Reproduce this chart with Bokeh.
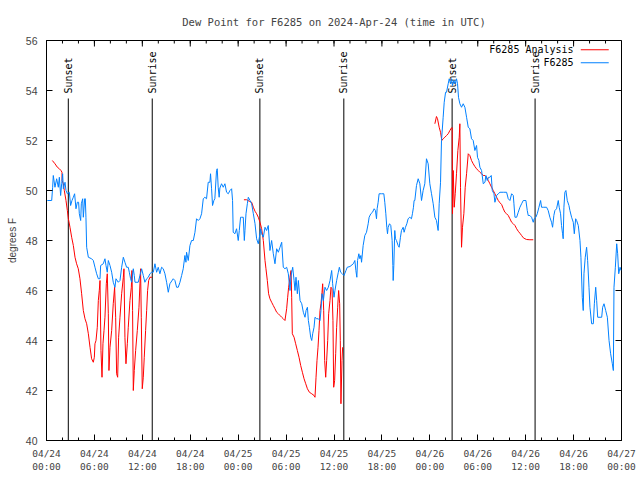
import numpy as np
from bokeh.plotting import figure
from bokeh.models import Range1d, FixedTicker, Label
from bokeh.core.properties import value
from bokeh.embed import file_html
from bokeh.resources import INLINE

TITLE = "Dew Point for F6285 on 2024-Apr-24 (time in UTC)"
Y_LABEL = "degrees F"
TICK_HOURS = [0, 6, 12, 18, 24, 30, 36, 42, 48, 54, 60, 66, 72]
TICK_LABELS = ["04/24\n00:00", "04/24\n06:00", "04/24\n12:00", "04/24\n18:00",
               "04/25\n00:00", "04/25\n06:00", "04/25\n12:00", "04/25\n18:00",
               "04/26\n00:00", "04/26\n06:00", "04/26\n12:00", "04/26\n18:00",
               "04/27\n00:00"]
MINOR_HOURS = list(range(0, 73, 2))
Y_TICKS = [40, 42, 44, 46, 48, 50, 52, 54, 56]
SUN_HOURS = [2.73, 13.24, 26.72, 37.23, 50.79, 61.18]
SUN_LABELS = ["Sunset", "Sunrise", "Sunset", "Sunrise", "Sunset", "Sunrise"]
LEGEND_LABELS = ["F6285 Analysis", "F6285"]

# Observed station dew point (hours since 2024-04-24 00:00 UTC, degrees F)
STATION_HOURS = [
    0.10, 0.65, 0.77, 0.85, 1.06, 1.27, 1.48, 1.61, 1.77, 1.90, 2.02, 2.11, 2.32, 2.44, 2.61, 2.86,
    3.02, 3.19, 3.36, 3.52, 3.69, 3.86, 4.02, 4.11, 4.28, 4.36, 4.53, 4.61, 4.78, 4.86, 4.94, 5.03,
    5.24, 5.65, 5.86, 6.07, 6.28, 6.49, 6.70, 6.78, 7.11, 7.32, 7.45, 7.61, 7.74, 7.95, 8.16, 8.36,
    8.57, 8.70, 8.99, 9.20, 9.41, 9.62, 9.82, 10.03, 10.24, 10.37, 10.53, 10.66, 10.87, 10.99, 11.08,
    11.49, 11.70, 11.91, 12.12, 12.32, 12.54, 12.75, 12.95, 13.16, 13.37, 13.58, 13.79, 13.99, 14.20,
    14.41, 14.62, 14.83, 15.04, 15.25, 15.45, 15.87, 16.08, 16.29, 16.50, 16.71, 16.92, 17.12, 17.33,
    17.46, 17.54, 17.75, 17.96, 18.17, 18.38, 18.59, 18.79, 19.00, 19.21, 19.42, 19.63, 19.83, 20.04,
    20.25, 20.46, 20.54, 20.67, 20.79, 20.96, 21.08, 21.29, 21.38, 21.50, 21.62,
    21.71, 21.92, 22.13, 22.34, 22.55, 22.76, 22.97, 23.18, 23.30, 23.38, 23.59, 23.80, 24.01, 24.14,
    24.30, 24.43, 24.64, 24.77, 24.85, 24.98, 25.15, 25.27, 25.48, 25.69, 25.90, 26.11, 26.31, 26.52,
    26.73, 26.81, 26.94, 27.15, 27.36, 27.56, 27.77, 27.98, 28.19, 28.40, 28.61, 28.82, 29.03, 29.24,
    29.45, 29.65, 29.86, 30.07, 30.28, 30.49, 30.62, 30.83, 31.00, 31.12, 31.24, 31.41, 31.54, 31.75,
    31.96, 32.16, 32.37, 32.50, 32.67, 32.79, 32.92, 33.08, 33.21, 33.33, 33.50, 33.62, 33.83, 34.04,
    34.25, 34.37, 34.50, 34.67, 34.87, 35.08, 35.29, 35.50, 35.71, 35.83, 36.00, 36.12, 36.33, 36.54,
    36.67, 36.83, 37.04, 37.25, 37.50, 37.66, 38.00, 38.42,
    38.61, 38.74, 38.86, 38.95, 39.11, 39.24, 39.36, 39.45, 39.65, 39.86, 40.07, 40.28, 40.40, 40.61,
    40.82, 41.03, 41.19, 41.32, 41.40, 41.53, 41.65, 41.94, 42.24, 42.36, 42.49, 42.61, 42.70, 42.78,
    42.95, 43.11, 43.28, 43.37, 43.41, 43.49, 43.61, 43.70, 43.82, 44.03, 44.16, 44.32, 44.45, 44.66,
    44.78, 44.95, 45.12, 45.28, 45.49, 45.70, 45.82, 45.95, 46.03,
    46.12, 46.33, 46.54, 46.75, 46.96, 47.16, 47.37, 47.58, 47.79, 48.00, 48.21, 48.42, 48.63, 48.83,
    49.04, 49.17, 49.34, 49.46, 49.67, 49.80, 49.97, 50.09, 50.30, 50.43, 50.59, 50.72, 50.84, 51.01,
    51.18, 51.34, 51.47, 51.59, 51.76, 51.97, 52.18, 52.39, 52.60, 52.81, 53.01, 53.22, 53.43, 53.64,
    53.85, 53.97, 54.14, 54.27, 54.48, 54.69, 54.90, 55.02, 55.19, 55.36, 55.52, 55.69, 55.82, 56.03,
    56.15, 56.36, 56.57, 56.78, 57.20, 57.61, 57.82, 58.03, 58.24, 58.45, 58.53, 58.66, 58.87, 59.07,
    59.28, 59.49, 59.70, 59.91, 60.03, 60.20, 60.32, 60.53, 60.74, 60.95, 61.07, 61.28, 61.45, 61.66,
    61.87, 61.99, 62.20, 62.62, 62.82, 63.03, 63.24, 63.37, 63.53, 63.66, 63.87, 64.08, 64.20, 64.37,
    64.49, 64.62, 64.70, 64.79, 64.91, 65.04, 65.21, 65.42, 65.54, 65.75, 65.96, 66.09, 66.26, 66.38,
    66.59, 66.80, 66.92, 67.09, 67.21, 67.30, 67.46, 67.63, 67.76, 67.93, 68.05, 68.26, 68.47, 68.60,
    68.77, 68.89, 69.02, 69.31, 69.52, 69.64, 69.81, 70.02, 70.23, 70.44, 70.64, 70.85, 70.98, 71.06,
    71.23, 71.40, 71.52, 71.65, 71.82, 71.94,
]
STATION_DEWPT = [
    49.60, 49.60, 50.13, 50.60, 50.13, 50.47, 50.13, 50.53, 49.80, 50.27, 50.67, 50.07, 50.33, 50.00, 49.87, 49.93,
    49.40, 49.60, 49.73, 49.87, 49.27, 49.53, 49.53, 49.07, 48.80, 49.47, 49.67, 48.93, 49.67, 49.67, 48.93, 47.73,
    47.33, 47.27, 47.20, 46.93, 46.67, 46.47, 46.47, 47.00, 47.07, 47.27, 47.00, 46.73, 47.20, 47.00, 46.73, 46.33,
    46.13, 46.47, 46.33, 46.40, 46.93, 47.33, 47.13, 46.93, 46.93, 46.73, 46.47, 46.33, 46.87, 46.60, 46.33,
    46.33, 46.60, 46.87, 46.60, 46.33, 46.47, 46.53, 46.67, 46.73, 46.73, 47.07, 46.73, 46.93, 46.67,
    46.93, 46.87, 46.67, 46.33, 45.93, 46.27, 46.47, 46.40, 46.13, 46.13, 46.33, 46.60, 46.87, 47.40,
    47.13, 47.53, 47.20, 47.80, 48.00, 48.00, 48.33, 48.87, 48.80, 48.87, 49.07, 49.67, 49.73, 49.67,
    50.33, 50.33, 50.67, 50.07, 49.40, 49.60, 49.67, 50.80, 50.87, 50.13, 49.73,
    50.10, 50.27, 50.13, 50.27, 49.93, 49.87, 50.00, 50.07, 49.60, 48.33, 48.27, 48.47, 48.00, 48.40,
    48.93, 48.93, 48.93, 48.00, 48.40, 49.07, 49.47, 49.73, 49.60, 49.47, 49.07, 48.67, 48.07, 47.87,
    48.27, 48.47, 48.27, 48.13, 48.53, 48.40, 48.60, 47.60, 48.00, 47.47, 47.07, 47.67, 47.53, 47.73,
    47.93, 46.93, 46.87, 46.93, 46.67, 46.00, 46.60, 46.93, 46.40, 46.00, 46.53, 45.87, 46.40, 45.60,
    45.47, 45.13, 44.93, 45.20, 45.33, 44.80, 44.53, 44.13, 44.00, 44.27, 44.53, 44.93, 44.87, 44.87,
    44.80, 45.20, 45.87, 45.60, 46.13, 46.00, 46.13, 46.40, 46.80, 46.27, 45.73, 46.00, 46.40, 46.73,
    46.93, 46.73, 46.67, 46.60, 46.80, 46.93, 46.96, 47.07,
    47.20, 46.80, 46.53, 47.20, 47.47, 47.27, 47.40, 47.13, 47.80, 48.20, 48.33, 48.67, 48.93, 49.07,
    49.13, 49.27, 49.20, 48.87, 49.27, 49.53, 49.87, 49.87, 49.87, 49.53, 49.07, 48.53, 48.27, 48.53,
    48.67, 48.60, 48.00, 47.00, 46.40, 47.00, 48.40, 48.07, 48.00, 47.80, 47.73, 48.13, 48.40, 48.53,
    48.33, 48.53, 48.67, 48.87, 48.93, 48.87, 49.07, 49.33, 49.60,
    49.60, 50.20, 50.47, 50.27, 49.60, 50.00, 50.27, 51.27, 51.07, 50.27, 49.87, 49.47, 48.93, 48.80,
    48.40, 49.47, 50.33, 52.00, 52.93, 53.53, 53.93, 53.93, 54.27, 54.47, 54.27, 54.47, 54.20, 54.40,
    54.27, 54.47, 54.27, 53.73, 53.47, 53.33, 53.47, 53.33, 52.93, 52.53, 52.47, 52.07, 52.00, 51.60,
    51.80, 51.33, 51.20, 50.93, 50.80, 50.27, 50.33, 50.60, 50.40, 50.53, 50.53, 50.60, 50.00, 49.87,
    49.53, 49.80, 49.87, 49.93, 49.93, 49.93, 49.67, 49.60, 49.87, 49.80, 49.47, 48.93, 48.93, 49.13,
    49.33, 49.47, 49.60, 49.60, 49.60, 49.20, 49.00, 49.00, 48.93, 48.73, 48.87, 48.93, 49.07, 49.33,
    49.60, 49.33, 49.33, 49.33, 49.20, 48.93, 48.73, 48.53, 49.00, 49.20, 49.27, 49.60, 49.33, 49.07,
    48.60, 48.27, 48.07, 49.33, 49.93, 50.00, 49.60, 49.40, 49.20, 48.93, 48.73, 48.27, 48.87, 48.80,
    48.60, 48.00, 47.33, 45.73, 45.20, 46.67, 47.33, 47.73, 47.20, 46.13, 45.33, 44.67, 44.67, 45.47,
    46.13, 45.60, 44.93, 44.93, 44.93, 45.33, 45.47, 45.20, 44.93, 44.00, 43.47, 43.07, 42.80, 46.13,
    46.93, 47.87, 47.47, 46.67, 46.93, 46.80,
]

# Analysis dew point, three nightly segments
ANALYSIS_HOURS_1 = [
    0.73, 1.06, 1.36, 1.61, 1.81, 1.94, 1.95, 2.11, 2.23, 2.44, 2.61, 2.74, 2.94, 3.15, 3.36, 3.57,
    3.77, 3.98, 4.19, 4.40, 4.61, 4.82, 5.03, 5.24, 5.45, 5.65, 5.86, 5.99, 6.07, 6.20, 6.36, 6.49,
    6.61, 6.70, 6.82, 6.95, 7.07, 7.20, 7.32, 7.49, 7.61, 7.74, 7.82, 7.95, 8.16, 8.36, 8.53, 8.66,
    8.78, 8.91, 9.03, 9.20, 9.41, 9.62, 9.70, 9.82, 9.95, 10.12, 10.24, 10.45, 10.62, 10.70, 10.78,
    10.87, 10.99, 11.16, 11.37, 11.58, 11.70, 11.78, 11.87, 11.99, 12.12, 12.24, 12.41, 12.54, 12.66,
    12.79, 12.95, 13.20,
]
ANALYSIS_DEWPT_1 = [
    51.20, 51.07, 50.93, 50.87, 50.80, 50.73, 50.40, 50.27, 50.00, 49.60, 49.20, 48.87, 48.53, 48.13, 47.80, 47.33,
    47.07, 46.87, 46.47, 45.87, 45.20, 44.87, 44.67, 44.27, 43.73, 43.27, 43.13, 43.33, 43.87, 44.00, 44.53, 45.60,
    46.00, 46.40, 43.60, 42.53, 43.87, 44.40, 44.93, 46.27, 46.67, 45.07, 42.80, 43.73, 44.40, 45.47, 46.13, 44.93,
    42.67, 42.53, 44.13, 44.93, 45.87, 46.53, 46.87, 44.13, 43.07, 43.87, 44.53, 45.60, 46.13, 46.80, 45.20,
    42.00, 42.80, 43.60, 44.40, 45.33, 46.27, 46.87, 44.93, 42.07, 42.53, 43.33, 44.40, 45.20, 46.00,
    46.40, 46.53, 46.53,
]
ANALYSIS_HOURS_2 = [
    24.72, 25.06, 25.39, 25.69, 25.90, 26.11, 26.31, 26.52, 26.73, 26.94, 27.15, 27.36, 27.48, 27.65,
    27.81, 27.98, 28.19, 28.40, 28.61, 28.82, 29.03, 29.24, 29.45, 29.65, 29.86, 30.07, 30.20, 30.32,
    30.49, 30.62, 30.70, 30.78, 31.00, 31.20, 31.41, 31.62, 31.83, 32.04, 32.25, 32.46, 32.67, 32.92,
    33.21, 33.50, 33.62, 33.75, 33.87, 34.00, 34.12, 34.25, 34.37, 34.50, 34.58, 34.71, 34.83, 34.96,
    35.08, 35.21, 35.33, 35.50, 35.62, 35.75, 35.87, 35.96, 36.08, 36.21, 36.33, 36.46, 36.58, 36.71,
    36.79, 36.87, 37.00, 37.08,
]
ANALYSIS_DEWPT_2 = [
    49.63, 49.63, 49.57, 49.53, 49.33, 49.17, 49.07, 48.93, 48.73, 48.47, 48.00, 47.20, 46.87, 46.40,
    45.87, 45.67, 45.53, 45.40, 45.27, 45.13, 45.07, 45.00, 44.93, 44.87, 44.80, 45.27, 45.73, 46.13,
    46.53, 46.80, 45.73, 44.27, 44.13, 43.87, 43.60, 43.33, 43.00, 42.73, 42.47, 42.27, 42.07, 41.93,
    41.87, 41.80, 41.73, 42.53, 43.20, 43.73, 44.40, 45.20, 45.47, 45.93, 46.27, 45.20, 43.20, 42.53,
    43.20, 44.00, 45.07, 45.60, 46.13, 46.07, 44.80, 42.13, 42.40, 43.47, 44.53, 45.33, 46.00, 45.47,
    44.00, 41.47, 43.20, 43.73,
]
ANALYSIS_HOURS_3 = [
    48.63, 48.83, 48.96, 49.17, 49.34, 49.50, 49.67, 49.88, 50.09, 50.30, 50.51, 50.72, 50.80, 50.84,
    50.93, 51.05, 51.18, 51.34, 51.51, 51.68, 51.76, 51.84, 51.97, 52.09, 52.26, 52.43, 52.60, 52.81,
    53.01, 53.22, 53.43, 53.64, 53.85, 54.06, 54.27, 54.48, 54.69, 54.90, 55.11, 55.32, 55.52, 55.73,
    55.94, 56.15, 56.36, 56.57, 56.78, 56.99, 57.20, 57.40, 57.61, 57.82, 58.03, 58.24, 58.45, 58.66,
    58.87, 59.07, 59.28, 59.49, 59.70, 59.91, 60.12, 60.53, 60.95,
]
ANALYSIS_DEWPT_3 = [
    52.67, 52.96, 52.87, 52.53, 52.33, 52.00, 52.07, 52.13, 52.20, 52.27, 52.40, 52.51, 52.51, 49.07,
    50.80, 49.33, 49.87, 50.67, 51.60, 52.13, 52.67, 50.13, 47.73, 48.53, 49.07, 50.13, 50.67, 51.47,
    51.40, 51.20, 51.07, 50.96, 50.87, 50.80, 50.73, 50.67, 50.60, 50.60, 50.53, 50.40, 50.27, 50.13,
    50.00, 49.87, 49.73, 49.60, 49.51, 49.44, 49.27, 49.13, 49.07, 49.00, 48.87, 48.73, 48.67, 48.60,
    48.47, 48.37, 48.29, 48.20, 48.11, 48.07, 48.04, 48.03, 48.03,
]

RED = "#ff0000"
BLUE = "#0080ff"
MONO = "DejaVu Sans Mono"
SANS = "Liberation Sans"
X_MIN, X_MAX, Y_MIN, Y_MAX = 0, 72, 40, 56
SUN_LINE_TOP = 53.68

p = figure(width=636, height=476, output_backend="svg", toolbar_location=None,
           x_range=Range1d(X_MIN, X_MAX), y_range=Range1d(Y_MIN, Y_MAX),
           min_border_left=46, min_border_right=15, min_border_top=40, min_border_bottom=36,
           title=TITLE, background_fill_color="white", border_fill_color="white")
p.title.align = "center"
p.title.text_font = MONO
p.title.text_font_size = "10.5px"
p.title.text_font_style = "normal"
p.title.standoff = 25
p.xgrid.grid_line_color = None
p.ygrid.grid_line_color = None
p.outline_line_color = "black"
p.outline_line_alpha = 1.0

xticker = FixedTicker(ticks=TICK_HOURS, minor_ticks=MINOR_HOURS)
yticker = FixedTicker(ticks=Y_TICKS, minor_ticks=[])

xa = p.xaxis[0]
xa.ticker = xticker
xa.major_label_overrides = {float(h): lab for h, lab in zip(TICK_HOURS, TICK_LABELS)}
xa.major_label_text_font = MONO
xa.major_label_text_font_size = "9.5px"
xa.major_label_standoff = 7
xa.major_tick_in = 6
xa.major_tick_out = 0
xa.minor_tick_in = 3
xa.minor_tick_out = 0
xa.axis_line_color = "black"

ya = p.yaxis[0]
ya.ticker = yticker
ya.major_label_text_font = SANS
ya.major_label_text_font_size = "10.5px"
ya.major_label_standoff = 9
ya.major_tick_in = 6
ya.major_tick_out = 0
ya.minor_tick_line_color = None
ya.axis_label = Y_LABEL
ya.axis_label_text_font = SANS
ya.axis_label_text_font_size = "10px"
ya.axis_label_text_font_style = "normal"
ya.axis_label_standoff = 5

# Mirror tick marks on the top and right frame edges
p.ray(x=TICK_HOURS, y=[Y_MAX] * len(TICK_HOURS), length=6, length_units="screen",
      angle=-np.pi / 2, line_color="black", line_width=1)
p.ray(x=MINOR_HOURS, y=[Y_MAX] * len(MINOR_HOURS), length=3, length_units="screen",
      angle=-np.pi / 2, line_color="black", line_width=1)
p.ray(x=[X_MAX] * len(Y_TICKS), y=Y_TICKS, length=6, length_units="screen",
      angle=np.pi, line_color="black", line_width=1)

# Sunrise / sunset markers
n = len(SUN_HOURS)
p.segment(x0=SUN_HOURS, y0=[Y_MIN] * n, x1=SUN_HOURS, y1=[SUN_LINE_TOP] * n,
          line_color="black", line_width=1)
p.text(x=SUN_HOURS, y=[SUN_LINE_TOP] * n, text=SUN_LABELS, angle=np.pi / 2,
       text_align="left", text_baseline="middle", y_offset=-5,
       text_font=value(MONO), text_font_size="10px", text_color="black")

# Analysis series (broken into nightly segments)
nan = float("nan")
analysis_x = ANALYSIS_HOURS_1 + [nan] + ANALYSIS_HOURS_2 + [nan] + ANALYSIS_HOURS_3
analysis_y = ANALYSIS_DEWPT_1 + [nan] + ANALYSIS_DEWPT_2 + [nan] + ANALYSIS_DEWPT_3
p.line(analysis_x, analysis_y, line_color=RED, line_width=1)

# Station series
p.line(STATION_HOURS, STATION_DEWPT, line_color=BLUE, line_width=1)

# Legend drawn gnuplot style: label then sample line
LEG_TEXT_X = 66.0
LEG_LINE_X0, LEG_LINE_X1 = 66.9, 70.4
LEG_Y = [55.63, 55.11]
for lab, col, yy in zip(LEGEND_LABELS, [RED, BLUE], LEG_Y):
    p.add_layout(Label(x=LEG_TEXT_X, y=yy, text=lab, text_align="right",
                       text_baseline="middle", text_font=MONO, text_font_size="10px",
                       text_color="black"))
    p.segment(x0=[LEG_LINE_X0], y0=[yy], x1=[LEG_LINE_X1], y1=[yy], line_color=col, line_width=1)

open("out.html", "w").write(file_html(p, INLINE))
